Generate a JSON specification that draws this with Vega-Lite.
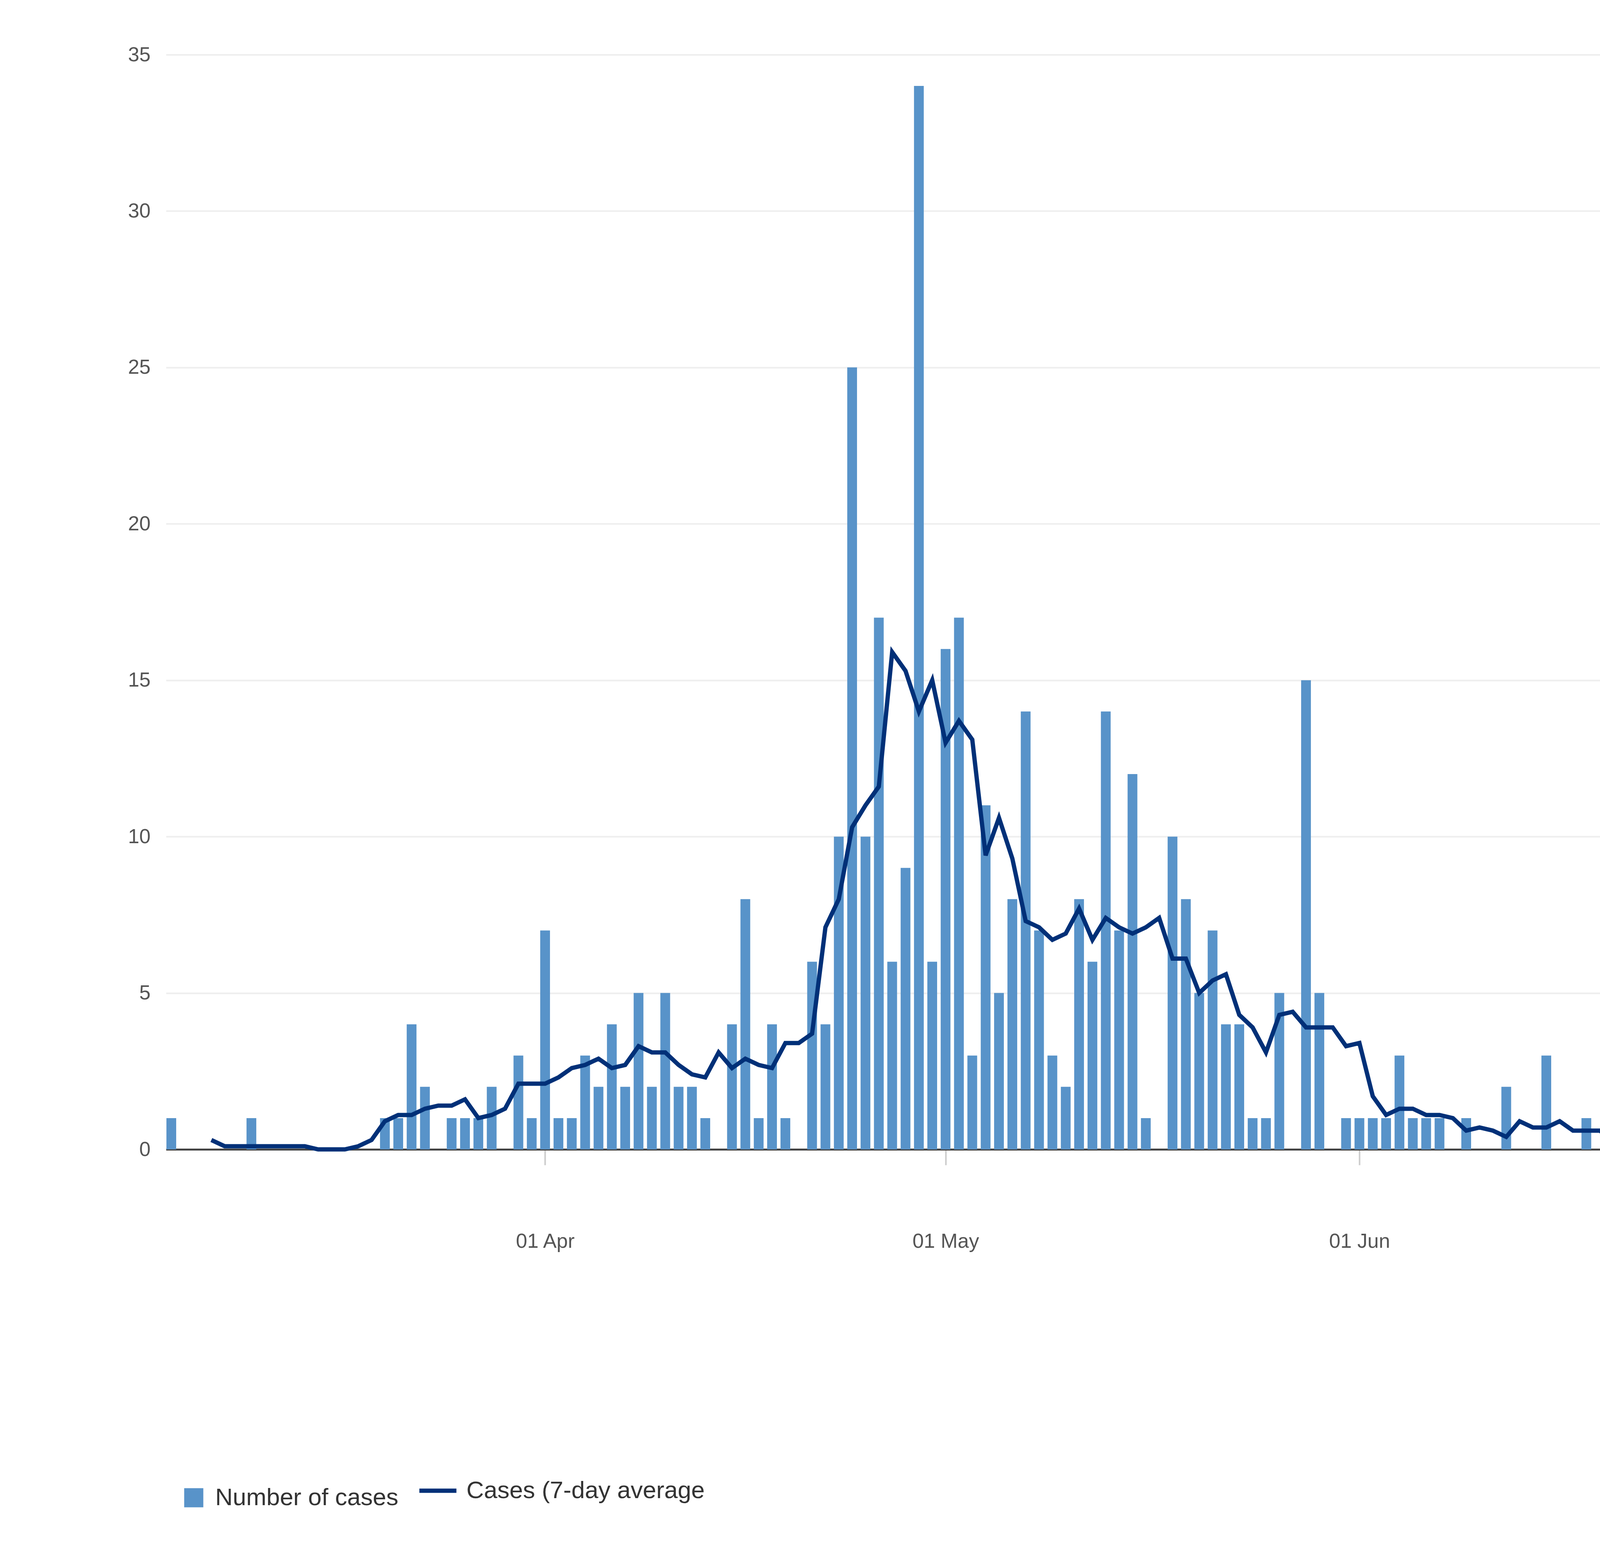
{
  "$schema": "https://vega.github.io/schema/vega-lite/v6.json",
  "width": 6400,
  "height": 3956,
  "autosize": {"type": "fit", "contains": "padding"},
  "padding": {"left": 327, "top": 114, "right": 67, "bottom": 50},
  "background": "white",
  "config": {
    "view": {"stroke": null},
    "font": "Liberation Sans",
    "legend": {"orient": "bottom", "direction": "horizontal", "offset": 560, "labelLimit": 1200, "titleLimit": 1200}
  },
  "data": {
    "values": [
      {"date":"2020-03-04","cases":1,"avg":null},{"date":"2020-03-05","cases":0,"avg":null},{"date":"2020-03-06","cases":0,"avg":null},
      {"date":"2020-03-07","cases":0,"avg":0.3},{"date":"2020-03-08","cases":0,"avg":0.1},{"date":"2020-03-09","cases":0,"avg":0.1},
      {"date":"2020-03-10","cases":1,"avg":0.1},{"date":"2020-03-11","cases":0,"avg":0.1},{"date":"2020-03-12","cases":0,"avg":0.1},
      {"date":"2020-03-13","cases":0,"avg":0.1},{"date":"2020-03-14","cases":0,"avg":0.1},{"date":"2020-03-15","cases":0,"avg":0},
      {"date":"2020-03-16","cases":0,"avg":0},{"date":"2020-03-17","cases":0,"avg":0},{"date":"2020-03-18","cases":0,"avg":0.1},
      {"date":"2020-03-19","cases":0,"avg":0.3},{"date":"2020-03-20","cases":1,"avg":0.9},{"date":"2020-03-21","cases":1,"avg":1.1},
      {"date":"2020-03-22","cases":4,"avg":1.1},{"date":"2020-03-23","cases":2,"avg":1.3},{"date":"2020-03-24","cases":0,"avg":1.4},
      {"date":"2020-03-25","cases":1,"avg":1.4},{"date":"2020-03-26","cases":1,"avg":1.6},{"date":"2020-03-27","cases":1,"avg":1.0},
      {"date":"2020-03-28","cases":2,"avg":1.1},{"date":"2020-03-29","cases":0,"avg":1.3},{"date":"2020-03-30","cases":3,"avg":2.1},
      {"date":"2020-03-31","cases":1,"avg":2.1},{"date":"2020-04-01","cases":7,"avg":2.1},{"date":"2020-04-02","cases":1,"avg":2.3},
      {"date":"2020-04-03","cases":1,"avg":2.6},{"date":"2020-04-04","cases":3,"avg":2.7},{"date":"2020-04-05","cases":2,"avg":2.9},
      {"date":"2020-04-06","cases":4,"avg":2.6},{"date":"2020-04-07","cases":2,"avg":2.7},{"date":"2020-04-08","cases":5,"avg":3.3},
      {"date":"2020-04-09","cases":2,"avg":3.1},{"date":"2020-04-10","cases":5,"avg":3.1},{"date":"2020-04-11","cases":2,"avg":2.7},
      {"date":"2020-04-12","cases":2,"avg":2.4},{"date":"2020-04-13","cases":1,"avg":2.3},{"date":"2020-04-14","cases":0,"avg":3.1},
      {"date":"2020-04-15","cases":4,"avg":2.6},{"date":"2020-04-16","cases":8,"avg":2.9},{"date":"2020-04-17","cases":1,"avg":2.7},
      {"date":"2020-04-18","cases":4,"avg":2.6},{"date":"2020-04-19","cases":1,"avg":3.4},{"date":"2020-04-20","cases":0,"avg":3.4},
      {"date":"2020-04-21","cases":6,"avg":3.7},{"date":"2020-04-22","cases":4,"avg":7.1},{"date":"2020-04-23","cases":10,"avg":8.0},
      {"date":"2020-04-24","cases":25,"avg":10.3},{"date":"2020-04-25","cases":10,"avg":11.0},{"date":"2020-04-26","cases":17,"avg":11.6},
      {"date":"2020-04-27","cases":6,"avg":15.9},{"date":"2020-04-28","cases":9,"avg":15.3},{"date":"2020-04-29","cases":34,"avg":14.0},
      {"date":"2020-04-30","cases":6,"avg":15.0},{"date":"2020-05-01","cases":16,"avg":13.0},{"date":"2020-05-02","cases":17,"avg":13.7},
      {"date":"2020-05-03","cases":3,"avg":13.1},{"date":"2020-05-04","cases":11,"avg":9.4},{"date":"2020-05-05","cases":5,"avg":10.6},
      {"date":"2020-05-06","cases":8,"avg":9.3},{"date":"2020-05-07","cases":14,"avg":7.3},{"date":"2020-05-08","cases":7,"avg":7.1},
      {"date":"2020-05-09","cases":3,"avg":6.7},{"date":"2020-05-10","cases":2,"avg":6.9},{"date":"2020-05-11","cases":8,"avg":7.7},
      {"date":"2020-05-12","cases":6,"avg":6.7},{"date":"2020-05-13","cases":14,"avg":7.4},{"date":"2020-05-14","cases":7,"avg":7.1},
      {"date":"2020-05-15","cases":12,"avg":6.9},{"date":"2020-05-16","cases":1,"avg":7.1},{"date":"2020-05-17","cases":0,"avg":7.4},
      {"date":"2020-05-18","cases":10,"avg":6.1},{"date":"2020-05-19","cases":8,"avg":6.1},{"date":"2020-05-20","cases":5,"avg":5.0},
      {"date":"2020-05-21","cases":7,"avg":5.4},{"date":"2020-05-22","cases":4,"avg":5.6},{"date":"2020-05-23","cases":4,"avg":4.3},
      {"date":"2020-05-24","cases":1,"avg":3.9},{"date":"2020-05-25","cases":1,"avg":3.1},{"date":"2020-05-26","cases":5,"avg":4.3},
      {"date":"2020-05-27","cases":0,"avg":4.4},{"date":"2020-05-28","cases":15,"avg":3.9},{"date":"2020-05-29","cases":5,"avg":3.9},
      {"date":"2020-05-30","cases":0,"avg":3.9},{"date":"2020-05-31","cases":1,"avg":3.3},{"date":"2020-06-01","cases":1,"avg":3.4},
      {"date":"2020-06-02","cases":1,"avg":1.7},{"date":"2020-06-03","cases":1,"avg":1.1},{"date":"2020-06-04","cases":3,"avg":1.3},
      {"date":"2020-06-05","cases":1,"avg":1.3},{"date":"2020-06-06","cases":1,"avg":1.1},{"date":"2020-06-07","cases":1,"avg":1.1},
      {"date":"2020-06-08","cases":0,"avg":1.0},{"date":"2020-06-09","cases":1,"avg":0.6},{"date":"2020-06-10","cases":0,"avg":0.7},
      {"date":"2020-06-11","cases":0,"avg":0.6},{"date":"2020-06-12","cases":2,"avg":0.4},{"date":"2020-06-13","cases":0,"avg":0.9},
      {"date":"2020-06-14","cases":0,"avg":0.7},{"date":"2020-06-15","cases":3,"avg":0.7},{"date":"2020-06-16","cases":0,"avg":0.9},
      {"date":"2020-06-17","cases":0,"avg":0.6},{"date":"2020-06-18","cases":1,"avg":0.6},{"date":"2020-06-19","cases":0,"avg":0.6},
      {"date":"2020-06-20","cases":0,"avg":0.3},{"date":"2020-06-21","cases":0,"avg":0.3},{"date":"2020-06-22","cases":1,"avg":0.3},
      {"date":"2020-06-23","cases":0,"avg":0.1},{"date":"2020-06-24","cases":0,"avg":0.1},{"date":"2020-06-25","cases":0,"avg":0.1},
      {"date":"2020-06-26","cases":0,"avg":0.3},{"date":"2020-06-27","cases":0,"avg":0.1},{"date":"2020-06-28","cases":1,"avg":0.1},
      {"date":"2020-06-29","cases":0,"avg":0.3},{"date":"2020-06-30","cases":0,"avg":0.4},{"date":"2020-07-01","cases":1,"avg":0.4},
      {"date":"2020-07-02","cases":1,"avg":0.4},{"date":"2020-07-03","cases":0,"avg":0.3},{"date":"2020-07-04","cases":0,"avg":0.3},
      {"date":"2020-07-05","cases":0,"avg":0.3},{"date":"2020-07-06","cases":0,"avg":0.1},{"date":"2020-07-07","cases":0,"avg":0},
      {"date":"2020-07-08","cases":0,"avg":0},{"date":"2020-07-09","cases":0,"avg":0},{"date":"2020-07-10","cases":0,"avg":0},
      {"date":"2020-07-11","cases":0,"avg":0},{"date":"2020-07-12","cases":0,"avg":0},{"date":"2020-07-13","cases":0,"avg":0},
      {"date":"2020-07-14","cases":0,"avg":0},{"date":"2020-07-15","cases":0,"avg":0},{"date":"2020-07-16","cases":0,"avg":0},
      {"date":"2020-07-17","cases":0,"avg":0},{"date":"2020-07-18","cases":0,"avg":0},{"date":"2020-07-19","cases":0,"avg":0},
      {"date":"2020-07-20","cases":0,"avg":0},{"date":"2020-07-21","cases":0,"avg":0},{"date":"2020-07-22","cases":0,"avg":0},
      {"date":"2020-07-23","cases":0,"avg":0},{"date":"2020-07-24","cases":0,"avg":0},{"date":"2020-07-25","cases":0,"avg":0.1},
      {"date":"2020-07-26","cases":0,"avg":0.3},{"date":"2020-07-27","cases":0,"avg":0.3},{"date":"2020-07-28","cases":1,"avg":0.3},
      {"date":"2020-07-29","cases":1,"avg":0.3},{"date":"2020-07-30","cases":0,"avg":0.3},{"date":"2020-07-31","cases":0,"avg":0.3},
      {"date":"2020-08-01","cases":0,"avg":0.1},{"date":"2020-08-02","cases":0,"avg":0},{"date":"2020-08-03","cases":0,"avg":0},
      {"date":"2020-08-04","cases":0,"avg":0},{"date":"2020-08-05","cases":0,"avg":0.1},{"date":"2020-08-06","cases":0,"avg":0.4},
      {"date":"2020-08-07","cases":1,"avg":0.4},{"date":"2020-08-08","cases":2,"avg":0.4},{"date":"2020-08-09","cases":0,"avg":0.7},
      {"date":"2020-08-10","cases":0,"avg":0.7},{"date":"2020-08-11","cases":2,"avg":0.7},{"date":"2020-08-12","cases":0,"avg":0.6},
      {"date":"2020-08-13","cases":0,"avg":0.3},{"date":"2020-08-14","cases":0,"avg":0.3},{"date":"2020-08-15","cases":0,"avg":0.3},
      {"date":"2020-08-16","cases":0,"avg":0},{"date":"2020-08-17","cases":0,"avg":0},{"date":"2020-08-18","cases":0,"avg":0},
      {"date":"2020-08-19","cases":0,"avg":0.1},{"date":"2020-08-20","cases":0,"avg":0.1},{"date":"2020-08-21","cases":1,"avg":0.1}
    ]
  },
  "encoding": {
    "x": {
      "field": "date",
      "type": "temporal",
      "title": null,
      "scale": {
        "type": "utc",
        "domain": [
          {"year": 2020, "month": 3, "date": 3, "hours": 18, "utc": true},
          {"year": 2020, "month": 8, "date": 23, "hours": 8, "utc": true}
        ]
      },
      "axis": {
        "values": [
          {"year": 2020, "month": 4, "date": 1, "utc": true},
          {"year": 2020, "month": 5, "date": 1, "utc": true},
          {"year": 2020, "month": 6, "date": 1, "utc": true},
          {"year": 2020, "month": 7, "date": 1, "utc": true},
          {"year": 2020, "month": 8, "date": 1, "utc": true}
        ],
        "labelExpr": "utcFormat(datum.value, '%d %b')",
        "grid": false,
        "domainColor": "#444444",
        "domainWidth": 5,
        "tickColor": "#cccccc",
        "tickWidth": 4,
        "tickSize": 40,
        "labelFontSize": 52,
        "labelColor": "#555555",
        "labelPadding": 170
      }
    }
  },
  "layer": [
    {
      "mark": {"type": "bar", "width": 25},
      "encoding": {
        "y": {
          "field": "cases",
          "type": "quantitative",
          "title": null,
          "scale": {"domain": [0, 35]},
          "axis": {
            "values": [0, 5, 10, 15, 20, 25, 30, 35],
            "format": "d",
            "domain": false,
            "ticks": false,
            "gridColor": "#eeeeee",
            "gridWidth": 4,
            "labelFontSize": 52,
            "labelColor": "#555555",
            "labelPadding": 40
          }
        },
        "color": {
          "datum": "Number of cases",
          "scale": {"range": ["#5893c9"]},
          "legend": {
            "title": null,
            "symbolType": "square",
            "symbolSize": 2400,
            "symbolStrokeWidth": 0,
            "labelFontSize": 62,
            "labelColor": "#333333",
            "labelOffset": 24,
            "padding": 40
          }
        }
      }
    },
    {
      "transform": [{"filter": "datum.avg != null"}],
      "mark": {"type": "line", "strokeWidth": 11, "interpolate": "linear"},
      "encoding": {
        "y": {"field": "avg", "type": "quantitative"},
        "stroke": {
          "datum": "Cases (7-day average",
          "scale": {"range": ["#003078"]},
          "legend": {
            "title": null,
            "symbolType": "stroke",
            "symbolSize": 9000,
            "symbolStrokeWidth": 11,
            "labelFontSize": 62,
            "labelColor": "#333333",
            "labelOffset": 20,
            "padding": 0
          }
        }
      }
    }
  ]
}
